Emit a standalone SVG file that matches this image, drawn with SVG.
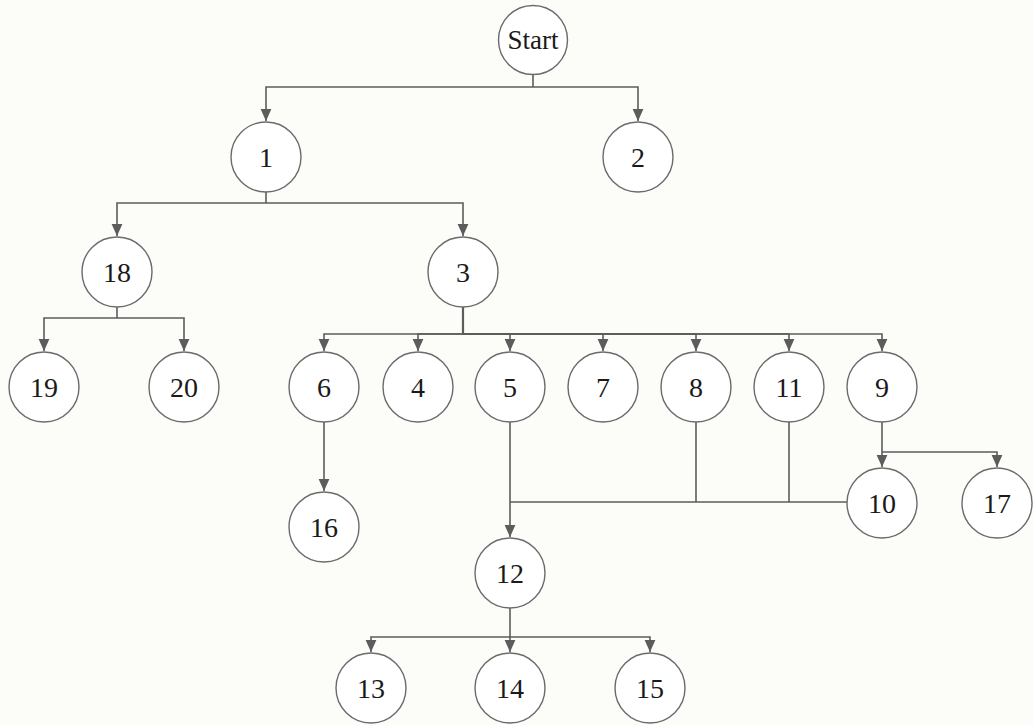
<svg xmlns="http://www.w3.org/2000/svg" width="1033" height="725" viewBox="0 0 1033 725">
  <style>
    .node circle { fill: #ffffff; stroke: #6b6b6b; stroke-width: 1.4; }
    .node text { font-family: "Liberation Serif", "Times New Roman", serif; font-size: 28px; fill: #1a1a1a; text-anchor: middle; dominant-baseline: central; }
    .edges path { fill: none; stroke: #5c5c5c; stroke-width: 1.6; }
  </style>
  <defs>
    <marker id="arrow" markerUnits="userSpaceOnUse" markerWidth="12" markerHeight="12" viewBox="0 0 10 10" refX="10" refY="5" orient="auto">
      <path d="M0,0.5 L10,5 L0,9.5 z" fill="#5c5c5c"/>
    </marker>
  </defs>
  <rect width="1033" height="725" fill="#fcfcf8"/>

  <g class="edges">
    <!-- Start -> 1, 2 -->
    <path d="M533,74 V87"/>
    <path d="M533,87 H266 V121" marker-end="url(#arrow)"/>
    <path d="M533,87 H638 V121" marker-end="url(#arrow)"/>
    <!-- 1 -> 18, 3 -->
    <path d="M266,192 V203"/>
    <path d="M266,203 H117 V236" marker-end="url(#arrow)"/>
    <path d="M266,203 H463 V236" marker-end="url(#arrow)"/>
    <!-- 18 -> 19, 20 -->
    <path d="M117,307 V318"/>
    <path d="M117,318 H44 V351" marker-end="url(#arrow)"/>
    <path d="M117,318 H184 V351" marker-end="url(#arrow)"/>
    <!-- 3 -> 6, 4, 5, 7, 8, 11, 9 -->
    <path d="M463,307 V334" style="stroke-width:2.2"/>
    <path d="M463,334 H324 V351" marker-end="url(#arrow)"/>
    <path d="M463,334 H418 V351" marker-end="url(#arrow)"/>
    <path d="M463,334 H510 V351" marker-end="url(#arrow)"/>
    <path d="M463,334 H603 V351" marker-end="url(#arrow)"/>
    <path d="M463,334 H696 V351" marker-end="url(#arrow)"/>
    <path d="M463,334 H789 V351" marker-end="url(#arrow)"/>
    <path d="M463,334 H882 V351" marker-end="url(#arrow)"/>
    <!-- 6 -> 16 -->
    <path d="M324,422 V491" marker-end="url(#arrow)"/>
    <!-- 9 -> 10, 17 -->
    <path d="M882,422 V467" marker-end="url(#arrow)"/>
    <path d="M882,452 H997 V467" marker-end="url(#arrow)"/>
    <!-- 5, 8, 11, 10 -> 12 -->
    <path d="M696,422 V502"/>
    <path d="M789,422 V502"/>
    <path d="M847,502 H510"/>
    <path d="M510,422 V537" marker-end="url(#arrow)"/>
    <!-- 12 -> 13, 14, 15 -->
    <path d="M510,608 V652" marker-end="url(#arrow)"/>
    <path d="M510,637 H371 V652" marker-end="url(#arrow)"/>
    <path d="M510,637 H650 V652" marker-end="url(#arrow)"/>
  </g>

  <g id="node-start" class="node"><circle cx="533" cy="40" r="34.5"/><text x="533" y="40" style="font-size:27px">Start</text></g>
  <g id="node-1" class="node"><circle cx="266" cy="157" r="35"/><text x="266" y="157">1</text></g>
  <g id="node-2" class="node"><circle cx="638" cy="157" r="35"/><text x="638" y="157">2</text></g>
  <g id="node-18" class="node"><circle cx="117" cy="272" r="35"/><text x="117" y="272">18</text></g>
  <g id="node-3" class="node"><circle cx="463" cy="272" r="35"/><text x="463" y="272">3</text></g>
  <g id="node-19" class="node"><circle cx="44" cy="387" r="35"/><text x="44" y="387">19</text></g>
  <g id="node-20" class="node"><circle cx="184" cy="387" r="35"/><text x="184" y="387">20</text></g>
  <g id="node-6" class="node"><circle cx="324" cy="387" r="35"/><text x="324" y="387">6</text></g>
  <g id="node-4" class="node"><circle cx="418" cy="387" r="35"/><text x="418" y="387">4</text></g>
  <g id="node-5" class="node"><circle cx="510" cy="387" r="35"/><text x="510" y="387">5</text></g>
  <g id="node-7" class="node"><circle cx="603" cy="387" r="35"/><text x="603" y="387">7</text></g>
  <g id="node-8" class="node"><circle cx="696" cy="387" r="35"/><text x="696" y="387">8</text></g>
  <g id="node-11" class="node"><circle cx="789" cy="387" r="35"/><text x="789" y="387">11</text></g>
  <g id="node-9" class="node"><circle cx="882" cy="387" r="35"/><text x="882" y="387">9</text></g>
  <g id="node-16" class="node"><circle cx="324" cy="527" r="35"/><text x="324" y="527">16</text></g>
  <g id="node-10" class="node"><circle cx="882" cy="503" r="35"/><text x="882" y="503">10</text></g>
  <g id="node-17" class="node"><circle cx="997" cy="503" r="35"/><text x="997" y="503">17</text></g>
  <g id="node-12" class="node"><circle cx="510" cy="573" r="35"/><text x="510" y="573">12</text></g>
  <g id="node-13" class="node"><circle cx="371" cy="688" r="35"/><text x="371" y="688">13</text></g>
  <g id="node-14" class="node"><circle cx="510" cy="688" r="35"/><text x="510" y="688">14</text></g>
  <g id="node-15" class="node"><circle cx="650" cy="688" r="35"/><text x="650" y="688">15</text></g>
</svg>
